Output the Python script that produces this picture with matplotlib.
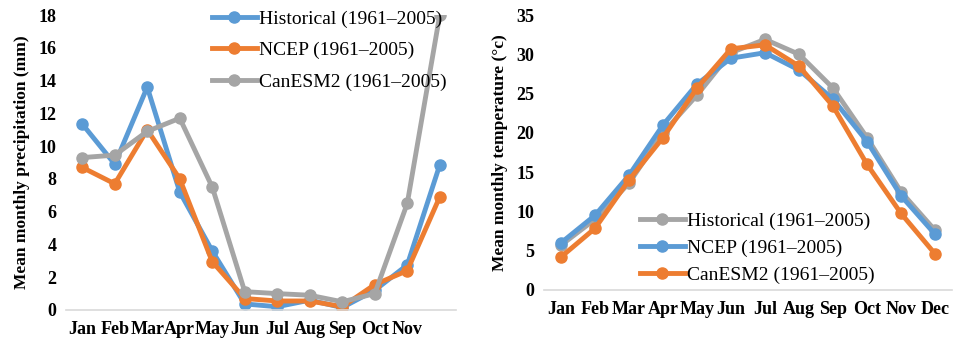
import matplotlib
matplotlib.use("Agg")
import matplotlib.pyplot as plt

plt.rcParams['font.family'] = ['Liberation Serif', 'DejaVu Serif']

months = ["Jan", "Feb", "Mar", "Apr", "May", "Jun", "Jul", "Aug", "Sep", "Oct", "Nov", "Dec"]
precip_tick_labels = months[:11]  # the reference shows no "Dec" label on the left chart

# Precipitation (mm)
precip_historical = [11.35, 8.9, 13.6, 7.2, 3.6, 0.37, 0.2, 0.6, 0.15, 1.2, 2.75, 8.85]
precip_ncep = [8.7, 7.7, 11.0, 8.0, 2.95, 0.7, 0.55, 0.55, 0.2, 1.55, 2.4, 6.9]
precip_canesm2 = [9.3, 9.45, 10.9, 11.7, 7.5, 1.12, 1.0, 0.9, 0.5, 1.0, 6.5, 18.0]

# Temperature (°c)
temp_historical = [5.7, 9.0, 13.6, 20.0, 24.8, 30.2, 31.9, 30.0, 25.7, 19.4, 12.5, 7.6]
temp_ncep = [6.0, 9.5, 14.6, 21.0, 26.2, 29.5, 30.2, 28.0, 24.3, 18.9, 12.0, 7.1]
temp_canesm2 = [4.2, 7.85, 14.0, 19.4, 25.7, 30.7, 31.2, 28.5, 23.4, 16.0, 9.75, 4.6]

BLUE = "#5B9BD5"
ORANGE = "#ED7D31"
GRAY = "#A5A5A5"
LBL = "Historical (1961\u20132005)"
LBL_N = "NCEP (1961\u20132005)"
LBL_C = "CanESM2 (1961\u20132005)"

fig = plt.figure(figsize=(9.6, 3.4), dpi=100)
W, H = 960, 340

def px_axes(l, t, r, b):
    return fig.add_axes([l / W, (H - b) / H, (r - l) / W, (b - t) / H])

lw = 3.5
ms = 8

def style(ax):
    for s in ["top", "right", "left"]:
        ax.spines[s].set_visible(False)
    ax.spines["bottom"].set_color("#D9D9D9")
    ax.spines["bottom"].set_linewidth(1.2)
    ax.tick_params(axis="both", length=0, labelsize=13)
    ax.tick_params(axis="x", pad=8)
    ax.tick_params(axis="y", pad=7)
    for t in ax.get_xticklabels() + ax.get_yticklabels():
        t.set_fontweight("bold")

# Left: precipitation
ax1 = px_axes(66, 15, 456, 310)
x = list(range(len(months)))
ax1.plot(x, precip_historical, color=BLUE, lw=lw, marker="o", ms=ms, label=LBL, solid_joinstyle="round")
ax1.plot(x, precip_ncep, color=ORANGE, lw=lw, marker="o", ms=ms, label=LBL_N, solid_joinstyle="round")
ax1.plot(x, precip_canesm2, color=GRAY, lw=lw, marker="o", ms=ms, label=LBL_C, solid_joinstyle="round")
ax1.set_xlim(-0.5, 11.5)
ax1.set_ylim(0, 18)
ax1.set_yticks(range(0, 19, 2))
ax1.set_xticks(range(len(precip_tick_labels)))
ax1.set_xticklabels(precip_tick_labels)
ax1.set_ylabel("Mean monthly precipitation (mm)", fontsize=12.5, fontweight="bold", labelpad=6)
style(ax1)
ax1.legend(loc="upper left", bbox_to_anchor=(212 / W, (H - 10) / H), bbox_transform=fig.transFigure,
           frameon=False, fontsize=14, handlelength=2.3, handletextpad=0.12, labelspacing=0.72,
           borderpad=0, borderaxespad=0)

# Right: temperature
ax2 = px_axes(544, 15, 952, 290)
ax2.plot(x, temp_historical, color=GRAY, lw=lw, marker="o", ms=ms, label=LBL, solid_joinstyle="round")
ax2.plot(x, temp_ncep, color=BLUE, lw=lw, marker="o", ms=ms, label=LBL_N, solid_joinstyle="round")
ax2.plot(x, temp_canesm2, color=ORANGE, lw=lw, marker="o", ms=ms, label=LBL_C, solid_joinstyle="round")
ax2.set_xlim(-0.5, 11.5)
ax2.set_ylim(0, 35)
ax2.set_yticks(range(0, 36, 5))
ax2.set_xticks(x)
ax2.set_xticklabels(months)
ax2.set_ylabel("Mean monthly temperature (\u00b0c)", fontsize=12.5, fontweight="bold", labelpad=6)
style(ax2)
ax2.legend(loc="upper left", bbox_to_anchor=(640 / W, (H - 212) / H), bbox_transform=fig.transFigure,
           frameon=False, fontsize=14, handlelength=2.3, handletextpad=0.12, labelspacing=0.48,
           borderpad=0, borderaxespad=0)

fig.savefig("out.png", dpi=100)
